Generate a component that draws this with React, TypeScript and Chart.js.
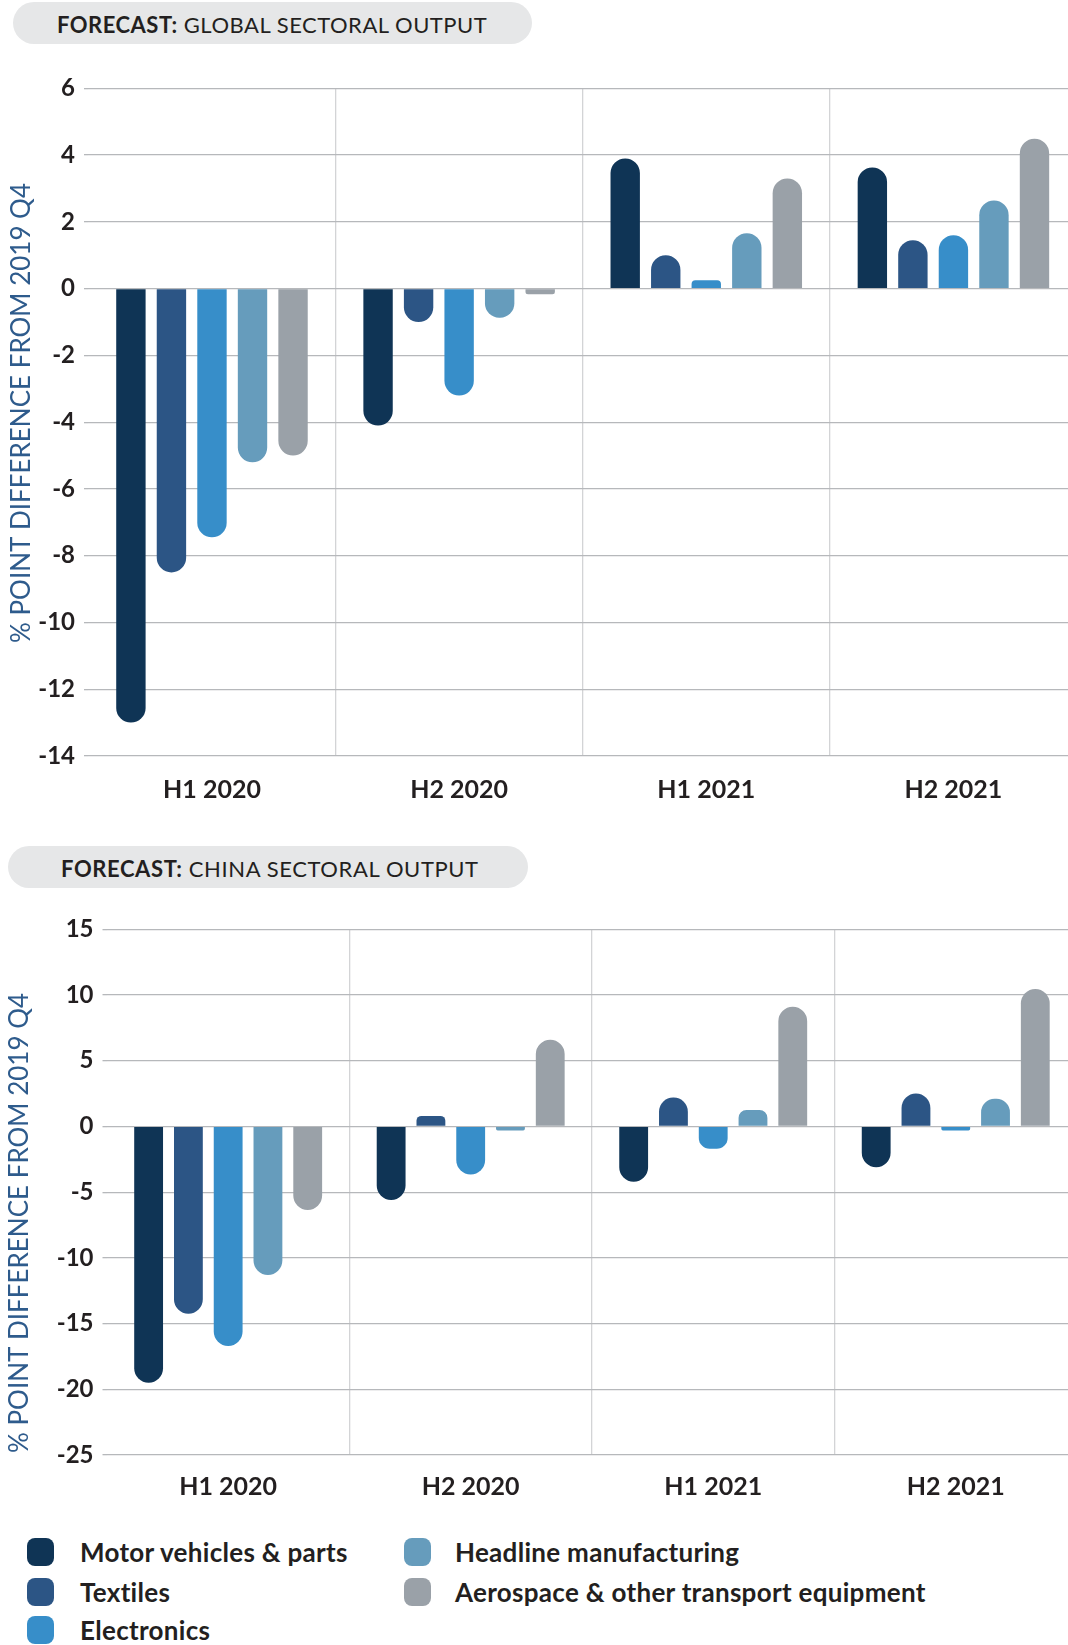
import React, { useEffect, useRef } from 'react';
import { Chart, registerables } from 'chart.js';

Chart.register(...registerables);
Chart.defaults.font.family = 'Lato';

const categories = ['H1 2020', 'H2 2020', 'H1 2021', 'H2 2021'];
const seriesNames = [
  'Motor vehicles & parts',
  'Textiles',
  'Electronics',
  'Headline manufacturing',
  'Aerospace & other transport equipment',
];
const seriesColors = ['#0f3455', '#2c5585', '#378ec9', '#669cbc', '#9aa1a8'];

// Global sectoral output
const globalMotor = [-13.0, -4.1, 3.9, 3.63];
const globalTextiles = [-8.5, -1.0, 1.0, 1.45];
const globalElectronics = [-7.45, -3.2, 0.25, 1.6];
const globalHeadline = [-5.2, -0.87, 1.66, 2.64];
const globalAerospace = [-5.0, -0.17, 3.3, 4.49];

// China sectoral output
const chinaMotor = [-19.5, -5.6, -4.2, -3.1];
const chinaTextiles = [-14.25, 0.8, 2.2, 2.5];
const chinaElectronics = [-16.7, -3.65, -1.7, -0.3];
const chinaHeadline = [-11.3, -0.3, 1.25, 2.1];
const chinaAerospace = [-6.35, 6.6, 9.1, 10.45];

const globalAxis = [-14, 6, 2]; // min, max, step
const chinaAxis = [-25, 15, 5];

const yTitle = '% POINT DIFFERENCE FROM 2019 Q4';
const textColor = '#231f20';

type ChartProps = {
  series: number[][];
  axis: number[];
  top: number;
  height: number;
  padTop: number;
  yWidth: number;
  xHeight: number;
  labelPad: number;
  titleX: number;
  titleY: number;
  titleAlign: 'center' | 'left';
};

function BarChart(p: ChartProps) {
  const ref = useRef<HTMLCanvasElement | null>(null);
  useEffect(() => {
    if (!ref.current) return;
    const yTitlePlugin = {
      id: 'yTitleRot',
      afterDraw(chart: any) {
        const ctx = chart.ctx;
        ctx.save();
        ctx.translate(p.titleX, p.titleY);
        ctx.rotate(-Math.PI / 2);
        ctx.font = 'normal 26px Lato';
        ctx.fillStyle = '#2e5b8c';
        ctx.textAlign = p.titleAlign;
        ctx.textBaseline = 'middle';
        ctx.fillText(yTitle, 0, 0);
        ctx.restore();
      },
    };
    const chart = new Chart(ref.current, {
      type: 'bar',
      data: {
        labels: categories,
        datasets: p.series.map((vals, i) => ({
          label: seriesNames[i],
          data: vals,
          backgroundColor: seriesColors[i],
          borderRadius: 15,
          borderSkipped: 'start',
          categoryPercentage: 0.82,
          barPercentage: 0.725,
        })),
      },
      options: {
        responsive: false,
        maintainAspectRatio: false,
        animation: false,
        devicePixelRatio: 1,
        layout: { padding: { top: p.padTop, right: 3, bottom: 0, left: 0 } },
        plugins: {
          legend: { display: false },
          tooltip: { enabled: false },
          title: { display: false },
        },
        scales: {
          x: {
            grid: {
              offset: true,
              drawTicks: false,
              lineWidth: 1.3,
              color: (c: any) =>
                c.index === 0 || c.tick === undefined ? 'rgba(0,0,0,0)' : '#d3d4d6',
            },
            border: { display: false },
            ticks: {
              font: { family: 'Lato', size: 25, weight: 'bold' },
              color: textColor,
              padding: p.labelPad,
              maxRotation: 0,
              autoSkip: false,
            },
            afterFit: (s: any) => {
              s.height = p.xHeight;
            },
          },
          y: {
            min: p.axis[0],
            max: p.axis[1],
            ticks: {
              stepSize: p.axis[2],
              font: { family: 'Lato', size: 24, weight: 'bold' },
              color: textColor,
              padding: 9,
            },
            grid: {
              color: '#b6b8bb',
              lineWidth: 1.3,
              drawTicks: true,
              tickLength: 4.4,
            },
            border: { display: false },
            title: { display: false },
            afterFit: (s: any) => {
              s.width = p.yWidth;
            },
          },
        },
      } as any,
      plugins: [yTitlePlugin],
    });
    return () => chart.destroy();
  }, []);
  return (
    <canvas
      ref={ref}
      width={1080}
      height={p.height}
      style={{ position: 'absolute', left: 0, top: p.top, width: 1080, height: p.height }}
    />
  );
}

function Pill(props: {
  left: number;
  top: number;
  width: number;
  textLeft: number;
  spacing: number;
  rest: string;
}) {
  return (
    <div
      style={{
        position: 'absolute',
        left: props.left,
        top: props.top,
        width: props.width,
        height: 42,
        borderRadius: 21,
        background: '#e6e7e8',
        boxSizing: 'border-box',
        paddingLeft: props.textLeft - props.left,
        paddingTop: 3,
        display: 'flex',
        alignItems: 'center',
        fontFamily: 'Lato',
        fontSize: 22,
        letterSpacing: props.spacing,
        color: textColor,
        whiteSpace: 'pre',
      }}
    >
      <span style={{ fontWeight: 700 }}>FORECAST:</span>
      <span style={{ fontWeight: 400 }}>{' ' + props.rest}</span>
    </div>
  );
}

function Legend() {
  const rows = [1552, 1591.5, 1630];
  const cols = [
    { sw: 27, tx: 80 },
    { sw: 404, tx: 455 },
  ];
  return (
    <>
      {seriesNames.map((name, i) => {
        const col = i < 3 ? 0 : 1;
        const row = i < 3 ? i : i - 3;
        const cy = rows[row];
        return (
          <React.Fragment key={name}>
            <div
              style={{
                position: 'absolute',
                left: cols[col].sw,
                top: cy - 14,
                width: 27,
                height: 28,
                borderRadius: 8,
                background: seriesColors[i],
              }}
            />
            <div
              style={{
                position: 'absolute',
                left: cols[col].tx,
                top: cy - 16,
                height: 32,
                lineHeight: '32px',
                fontFamily: 'Lato',
                fontWeight: 700,
                fontSize: 26,
                letterSpacing: 0.3,
                color: textColor,
                whiteSpace: 'nowrap',
              }}
            >
              {name}
            </div>
          </React.Fragment>
        );
      })}
    </>
  );
}

export default function App() {
  return (
    <div
      style={{
        position: 'absolute',
        left: 0,
        top: 0,
        width: 1068,
        height: 1645,
        overflow: 'hidden',
        background: '#ffffff',
      }}
    >
      <Pill left={13} top={2} width={519} textLeft={57} spacing={0.5} rest="GLOBAL SECTORAL OUTPUT" />
      <BarChart
        series={[globalMotor, globalTextiles, globalElectronics, globalHeadline, globalAerospace]}
        axis={globalAxis}
        top={50}
        height={780}
        padTop={38.3}
        yWidth={88.4}
        xHeight={74}
        labelPad={19}
        titleX={21.5}
        titleY={363}
        titleAlign="center"
      />
      <Pill left={8} top={846} width={520} textLeft={61} spacing={0.6} rest="CHINA SECTORAL OUTPUT" />
      <BarChart
        series={[chinaMotor, chinaTextiles, chinaElectronics, chinaHeadline, chinaAerospace]}
        axis={chinaAxis}
        top={900}
        height={615}
        padTop={29.3}
        yWidth={106.9}
        xHeight={60}
        labelPad={17}
        titleX={20}
        titleY={553}
        titleAlign="left"
      />
      <Legend />
    </div>
  );
}
